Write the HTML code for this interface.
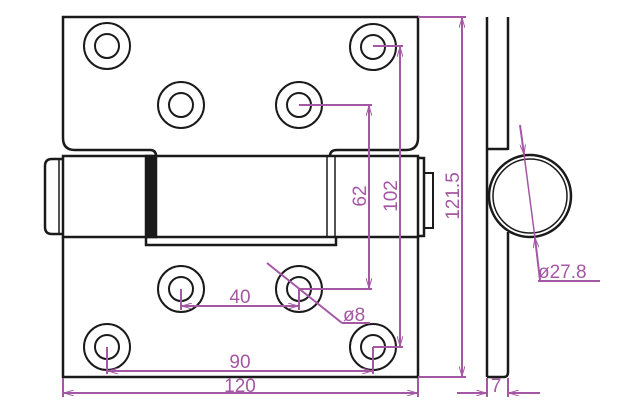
<!DOCTYPE html>
<html><head><style>body{margin:0;background:#fff}svg{display:block}</style></head><body>
<svg width="625" height="400" viewBox="0 0 625 400" xmlns="http://www.w3.org/2000/svg">
<defs>
<marker id="a" viewBox="0 0 10 6" refX="10" refY="3" markerWidth="10" markerHeight="6" orient="auto-start-reverse" markerUnits="userSpaceOnUse"><path d="M0,0 L10,3 L0,6" fill="none" stroke="#a458a4" stroke-width="1"/></marker>
</defs>
<g fill="none" stroke="#1a1a1a" stroke-width="2.5">
<!-- top plate -->
<path d="M75,150 Q63,150 63,138 L63,17 L418,17 L418,138 Q418,150 406,150 L337,150"/>
<path d="M75,150 L150,150 Q156,150 156,156"/>
<path d="M330,156 Q330,150 337,150"/>
<!-- knuckle -->
<rect x="63" y="156" width="355" height="81"/>
<path d="M63,159 L52,159 Q45,159 45,166 L45,227 Q45,234 52,234 L63,234"/>
<line x1="59" y1="159" x2="59" y2="234" stroke-width="1.5"/>
<rect x="146" y="156" width="10" height="81" fill="#1a1a1a"/>
<line x1="327" y1="156" x2="327" y2="237" stroke-width="1.5"/>
<line x1="335" y1="156" x2="335" y2="237" stroke-width="1.5"/>
<path d="M146,237 L146,245 L336,245 L336,237"/>
<path d="M418,158 L424,158 L424,236 L418,236"/>
<path d="M424,173 L433,173 L433,228 L424,228" stroke-width="2"/>
<!-- bottom plate -->
<path d="M63,237 L63,377 L418,377 L418,237"/>
<!-- holes -->
<g stroke-width="2">
<circle cx="107" cy="46" r="23"/><circle cx="107" cy="46" r="12"/>
<circle cx="373" cy="47" r="23"/><circle cx="373" cy="47" r="12"/>
<circle cx="181" cy="105" r="23"/><circle cx="181" cy="105" r="12"/>
<circle cx="299" cy="105" r="23"/><circle cx="299" cy="105" r="12"/>
<circle cx="181" cy="289" r="23"/><circle cx="181" cy="289" r="12"/>
<circle cx="299" cy="289" r="23"/><circle cx="299" cy="289" r="12"/>
<circle cx="107" cy="347" r="23"/><circle cx="107" cy="347" r="12"/>
<circle cx="373" cy="347" r="23"/><circle cx="373" cy="347" r="12"/>
</g>
<!-- side view -->
<line x1="487" y1="17" x2="487" y2="377"/>
<line x1="508" y1="17" x2="508" y2="150"/>
<line x1="508" y1="232" x2="508" y2="372"/>
<path d="M487,377 L504,377 Q508,377 508,372"/>
<line x1="487" y1="149" x2="508" y2="149"/>
<circle cx="530" cy="196" r="41"/>
<circle cx="530" cy="196" r="37" stroke-width="1.5"/>
</g>
<g fill="none" stroke="#a458a4" stroke-width="2">
<line x1="418" y1="17" x2="466" y2="17"/>
<line x1="418" y1="377" x2="466" y2="377"/>
<line x1="462" y1="18" x2="462" y2="376" marker-start="url(#a)" marker-end="url(#a)"/>
<line x1="373" y1="46" x2="403" y2="46"/>
<line x1="373" y1="347" x2="403" y2="347"/>
<line x1="400" y1="47" x2="400" y2="346" marker-start="url(#a)" marker-end="url(#a)"/>
<line x1="299" y1="105" x2="372" y2="105"/>
<line x1="299" y1="289" x2="372" y2="289"/>
<line x1="369" y1="106" x2="369" y2="288" marker-start="url(#a)" marker-end="url(#a)"/>
<line x1="181" y1="289" x2="181" y2="310"/>
<line x1="299" y1="289" x2="299" y2="310"/>
<line x1="182" y1="306" x2="298" y2="306" marker-start="url(#a)" marker-end="url(#a)"/>
<line x1="107" y1="347" x2="107" y2="374"/>
<line x1="373" y1="347" x2="373" y2="374"/>
<line x1="108" y1="371" x2="372" y2="371" marker-start="url(#a)" marker-end="url(#a)"/>
<line x1="63" y1="378" x2="63" y2="397"/>
<line x1="418" y1="378" x2="418" y2="397"/>
<line x1="64" y1="393" x2="417" y2="393" marker-start="url(#a)" marker-end="url(#a)"/>
<line x1="267" y1="263" x2="342" y2="323"/>
<line x1="342" y1="323" x2="370" y2="323"/>
<line x1="487" y1="378" x2="487" y2="397"/>
<line x1="508" y1="378" x2="508" y2="397"/>
<line x1="457" y1="393" x2="486" y2="393" marker-end="url(#a)"/>
<line x1="540" y1="393" x2="509" y2="393" marker-end="url(#a)"/>
<line x1="520" y1="125" x2="524" y2="154" marker-end="url(#a)"/>
<line x1="540" y1="280" x2="535" y2="238" marker-end="url(#a)"/>
<line x1="524" y1="154" x2="535" y2="238" stroke-width="1.5"/>
<line x1="538" y1="281" x2="600" y2="281"/>
</g>
<g fill="#a458a4" font-family="Liberation Sans, sans-serif" font-size="19">
<text x="240" y="303" text-anchor="middle">40</text>
<text x="240" y="368" text-anchor="middle">90</text>
<text x="240" y="392" text-anchor="middle">120</text>
<text x="343" y="321">ø8</text>
<text x="538" y="278">ø27.8</text>
<text x="496" y="392" text-anchor="middle">7</text>
<text transform="translate(366,196) rotate(-90)" text-anchor="middle">62</text>
<text transform="translate(397,196) rotate(-90)" text-anchor="middle">102</text>
<text transform="translate(459,196) rotate(-90)" text-anchor="middle">121.5</text>
</g>
</svg>
</body></html>
